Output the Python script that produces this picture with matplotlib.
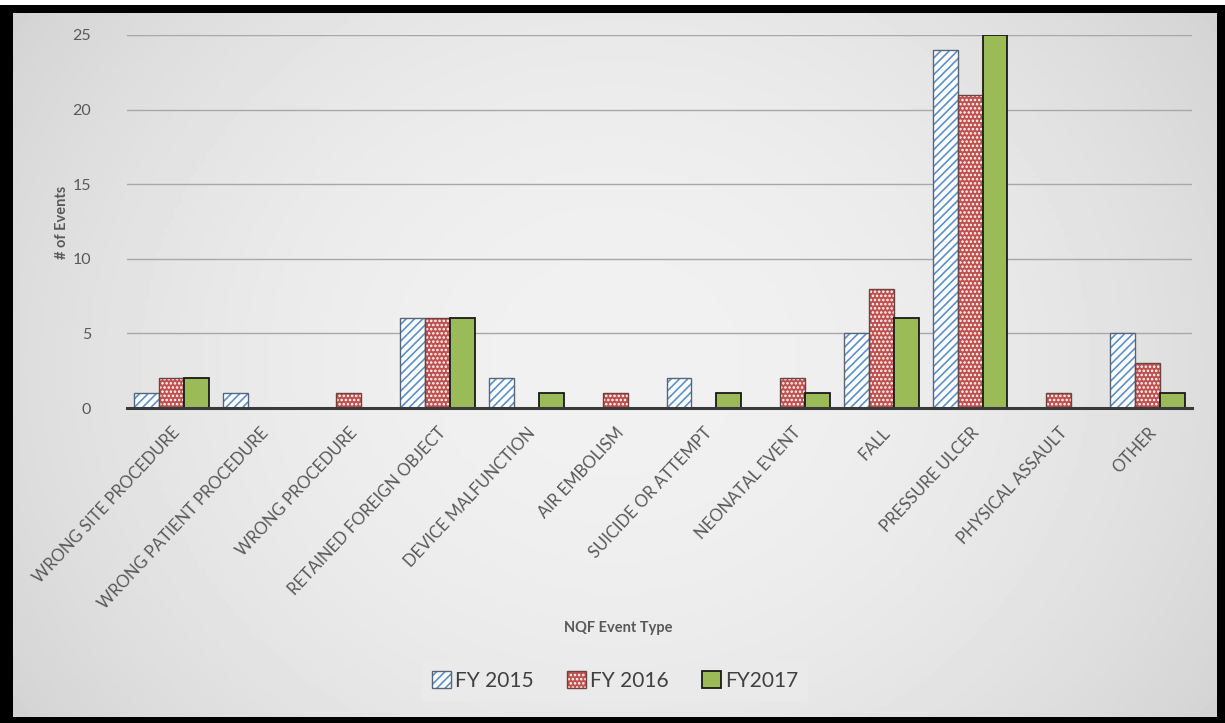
import numpy as np
import matplotlib
matplotlib.use("Agg")
import matplotlib.pyplot as plt
from matplotlib.patches import Patch, Rectangle

plt.rcParams['font.family'] = ['Lato', 'DejaVu Sans']
plt.rcParams['hatch.linewidth'] = 1.2

categories = ["WRONG SITE PROCEDURE", "WRONG PATIENT PROCEDURE", "WRONG PROCEDURE",
              "RETAINED FOREIGN OBJECT", "DEVICE MALFUNCTION", "AIR EMBOLISM",
              "SUICIDE OR ATTEMPT", "NEONATAL EVENT", "FALL", "PRESSURE ULCER",
              "PHYSICAL ASSAULT", "OTHER"]
fy2015 = [1, 1, 0, 6, 2, 0, 2, 0, 5, 24, 0, 5]
fy2016 = [2, 0, 1, 6, 0, 1, 0, 2, 8, 21, 1, 3]
fy2017 = [2, 0, 0, 6, 1, 0, 1, 1, 6, 25, 0, 1]
series_names = ["FY 2015", "FY 2016", "FY2017"]
yticks = [0, 5, 10, 15, 20, 25]

W, H = 1225, 723
fig = plt.figure(figsize=(W / 100, H / 100), dpi=100, facecolor='white')

# black frame
fig.patches.append(Rectangle((0, 0), 1, 1 - 5 / H, transform=fig.transFigure,
                             facecolor='black', edgecolor='none', zorder=-10))

# gradient background inside frame
bg = fig.add_axes([13 / W, 6 / H, (1217 - 13) / W, (717 - 13) / H], zorder=-5)
yy, xx = np.mgrid[-1:1:200j, -1:1:300j]
r = np.sqrt((xx * 0.9) ** 2 + (yy * 0.6) ** 2)
bg.imshow(0.945 - 0.10 * r ** 2, cmap='gray', vmin=0, vmax=1, aspect='auto',
          extent=[0, 1, 0, 1])
bg.axis('off')

ax = fig.add_axes([127 / W, 1 - 408 / H, (1192 - 127) / W, (408 - 35) / H])
ax.patch.set_alpha(0)

x = np.arange(len(categories))
bw = 0.28

blue_edge = '#5b8fc9'
red_face = '#c0504d'
green_face = '#9bbb59'

# FY 2015: blue diagonal stripes
ax.bar(x - bw, fy2015, bw, color='white', edgecolor=blue_edge, hatch='////', linewidth=0, zorder=2)
ax.bar(x - bw, fy2015, bw, fill=False, edgecolor='#56657a', linewidth=1.0, zorder=3)
# FY 2016: red with white dots
ax.bar(x, fy2016, bw, color=red_face, edgecolor='white', hatch='....', linewidth=0, zorder=2)
ax.bar(x, fy2016, bw, fill=False, edgecolor='#6e4442', linewidth=1.0, zorder=3)
# FY2017: solid green
ax.bar(x + bw, fy2017, bw, color=green_face, edgecolor='#1a1a1a', linewidth=1.3, zorder=3)

ax.set_xlim(-0.5, len(categories) - 0.5)
ax.set_ylim(0, 25)
ax.set_yticks(yticks)
ax.yaxis.grid(True, color='#a8a8a8', linewidth=1.0, zorder=0)
ax.set_axisbelow(True)
for s in ['top', 'right', 'left']:
    ax.spines[s].set_visible(False)
ax.spines['bottom'].set_color('#3a3a3a')
ax.spines['bottom'].set_linewidth(2.2)
ax.spines['bottom'].set_zorder(4)

ax.set_xticks(x)
ax.set_xticklabels(categories, rotation=47, ha='right', rotation_mode='anchor',
                   fontsize=12, color='#595959')
ax.tick_params(axis='x', length=0, pad=12)
ax.tick_params(axis='y', length=0, pad=26, labelsize=11.5, labelcolor='#595959')

fig.text(62 / W, 1 - 222 / H, '# of Events', rotation=90, ha='center', va='center',
         fontsize=10.5, fontweight='bold', color='#595959')
fig.text(618 / W, 1 - 628 / H, 'NQF Event Type', ha='center', va='center',
         fontsize=10.5, fontweight='bold', color='#595959')

h1 = (Patch(facecolor='white', edgecolor=blue_edge, hatch='////', linewidth=0),
      Patch(fill=False, edgecolor='#56657a', linewidth=1.0))
h2 = (Patch(facecolor=red_face, edgecolor='white', hatch='....', linewidth=0),
      Patch(fill=False, edgecolor='#6e4442', linewidth=1.0))
h3 = Patch(facecolor=green_face, edgecolor='#1a1a1a', linewidth=1.3)
leg = fig.legend([h1, h2, h3], series_names, loc='center', ncol=3,
                 bbox_to_anchor=(615 / W, 1 - 681 / H), frameon=True,
                 fontsize=15, handlelength=0.9, handleheight=0.9,
                 handletextpad=0.2, columnspacing=1.6, borderpad=0.5)
leg.get_frame().set_facecolor('#ebebeb')
leg.get_frame().set_edgecolor('none')
leg.get_frame().set_alpha(0.9)
for t in leg.get_texts():
    t.set_color('#404040')

fig.savefig('out.png', dpi=100, facecolor=fig.get_facecolor())
